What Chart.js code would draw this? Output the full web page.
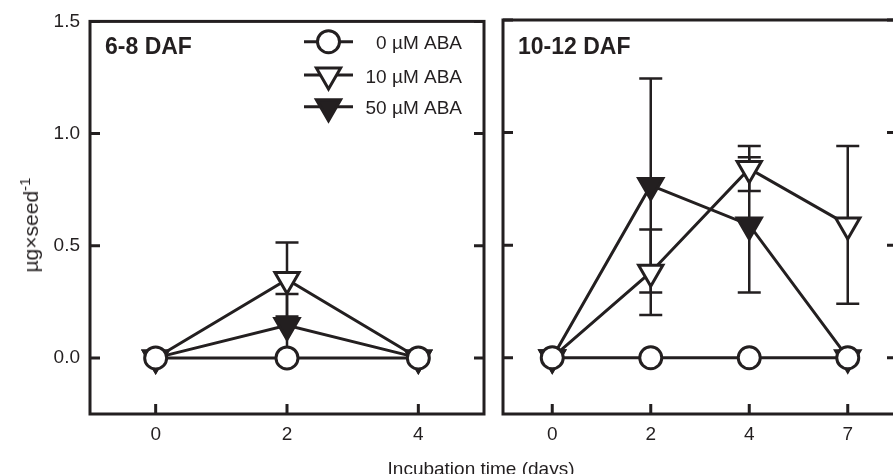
<!DOCTYPE html>
<html>
<head>
<meta charset="utf-8">
<script src="https://cdn.jsdelivr.net/npm/chart.js@4.4.1/dist/chart.umd.min.js"></script>
<style>
  html, body { margin: 0; padding: 0; background: #fff; overflow: hidden; }
  #wrap { position: relative; width: 893px; height: 474px; overflow: hidden;
          font-family: "Liberation Sans", Arial, Helvetica, sans-serif; color: #231f20; }
  canvas { position: absolute; top: 0; }
  #left { left: 0; }
  #right { left: 490px; }
  #ytitle { position: absolute; left: 29px; top: 225px; white-space: nowrap; line-height: 1;
            font-size: 21px; transform: translate(-50%, -50%) rotate(-90deg); }
  #ytitle sup { font-size: 15px; }
  #xtitle { position: absolute; left: 481px; top: 459px; transform: translateX(-50%);
            font-size: 19px; line-height: 19px; white-space: nowrap; }
</style>
</head>
<body>
<div id="wrap">
  <canvas id="left" width="490" height="474"></canvas>
  <canvas id="right" width="410" height="474"></canvas>
  <div id="ytitle">µg×seed<sup>-1</sup></div>
  <div id="xtitle">Incubation time (days)</div>
</div>
<script>
const seriesNames = ["0 µM ABA", "10 µM ABA", "50 µM ABA"];
const yTicks = [0, 0.5, 1.0, 1.5];

// 6-8 DAF panel
const earlyDays = [0, 2, 4];
const early0 = [0, 0, 0];
const early10 = [0, 0.35, 0];
const early50 = [0, 0.145, 0];
const early10Err = [0, 0.165, 0];
const early50Err = [0, 0.14, 0];

// 10-12 DAF panel
const lateDays = ["0", "2", "4", "7"];
const late0 = [0, 0, 0, 0];
const late10 = [0, 0.38, 0.84, 0.59];
const late50 = [0, 0.765, 0.59, 0];
const late10Err = [0, 0.19, 0.10, 0.35];
const late50Err = [0, 0.475, 0.30, 0];

const ink = "#231f20";
const fontFamily = '"Liberation Sans", Arial, Helvetica, sans-serif';
Chart.defaults.font.family = fontFamily;
Chart.defaults.font.size = 19;
Chart.defaults.color = ink;

const marks = [
  { style: "circle", radius: 11, fill: "#fff", rotation: 0 },
  { style: "triangle", radius: 14, fill: "#fff", rotation: 180 },
  { style: "triangle", radius: 14, fill: ink, rotation: 180 },
];

function makeSets(values, errs, xs) {
  return values.map((vals, k) => ({
    label: seriesNames[k],
    data: xs ? vals.map((v, i) => ({ x: xs[i], y: v })) : vals,
    errors: errs[k],
    borderColor: ink,
    borderWidth: 3,
    tension: 0,
    fill: false,
    pointStyle: marks[k].style,
    pointRadius: marks[k].radius,
    pointRotation: marks[k].rotation,
    pointBackgroundColor: marks[k].fill,
    pointBorderColor: ink,
    pointBorderWidth: 3,
  }));
}

function drawMarker(ctx, m, x, y) {
  ctx.beginPath();
  if (m.style === "circle") {
    ctx.arc(x, y, m.radius, 0, Math.PI * 2);
  } else {
    for (let k = 0; k < 3; k++) {
      const a = Math.PI + (k * 2 * Math.PI) / 3;
      const px = x + Math.sin(a) * m.radius;
      const py = y - Math.cos(a) * m.radius;
      if (k === 0) ctx.moveTo(px, py);
      else ctx.lineTo(px, py);
    }
    ctx.closePath();
  }
  ctx.fillStyle = m.fill;
  ctx.fill();
  ctx.lineWidth = 3;
  ctx.strokeStyle = ink;
  ctx.stroke();
}

// error bars under the markers, frame + inward ticks + panel title on top
function panelPlugin(title) {
  return {
    id: "panel",
    beforeDatasetsDraw(chart) {
      const ctx = chart.ctx;
      const y = chart.scales.y;
      ctx.save();
      ctx.strokeStyle = ink;
      ctx.lineWidth = 2.5;
      chart.data.datasets.forEach((ds, k) => {
        const meta = chart.getDatasetMeta(k);
        ds.errors.forEach((e, i) => {
          if (!e) return;
          const v = typeof ds.data[i] === "object" ? ds.data[i].y : ds.data[i];
          const px = meta.data[i].x;
          const top = y.getPixelForValue(v + e);
          const bot = y.getPixelForValue(v - e);
          ctx.beginPath();
          ctx.moveTo(px, top); ctx.lineTo(px, bot);
          ctx.moveTo(px - 11.5, top); ctx.lineTo(px + 11.5, top);
          ctx.moveTo(px - 11.5, bot); ctx.lineTo(px + 11.5, bot);
          ctx.stroke();
        });
      });
      ctx.restore();
    },
    afterDatasetsDraw(chart) {
      const ctx = chart.ctx;
      const a = chart.chartArea;
      const x = chart.scales.x;
      const y = chart.scales.y;
      ctx.save();
      ctx.strokeStyle = ink;
      ctx.lineWidth = 3;
      ctx.strokeRect(a.left, a.top, a.right - a.left, a.bottom - a.top);
      ctx.beginPath();
      yTicks.forEach((t) => {
        const py = y.getPixelForValue(t);
        ctx.moveTo(a.left, py); ctx.lineTo(a.left + 10, py);
        ctx.moveTo(a.right, py); ctx.lineTo(a.right - 10, py);
      });
      x.ticks.forEach((t, i) => {
        const px = x.getPixelForTick(i);
        ctx.moveTo(px, a.bottom); ctx.lineTo(px, a.bottom - 10);
      });
      ctx.stroke();
      ctx.fillStyle = ink;
      ctx.font = "bold 23px " + fontFamily;
      ctx.textAlign = "left";
      ctx.textBaseline = "alphabetic";
      ctx.fillText(title, a.left + 15, 53.5);
      ctx.restore();
    },
  };
}

const legendPlugin = {
  id: "seriesLegend",
  afterDraw(chart) {
    const ctx = chart.ctx;
    const rows = [41.7, 75, 106.7];
    ctx.save();
    seriesNames.forEach((name, k) => {
      const ry = rows[k];
      ctx.beginPath();
      ctx.moveTo(304, ry); ctx.lineTo(353, ry);
      ctx.lineWidth = 3;
      ctx.strokeStyle = ink;
      ctx.stroke();
      drawMarker(ctx, marks[k], 328.5, ry);
      ctx.fillStyle = ink;
      ctx.font = "19px " + fontFamily;
      ctx.textAlign = "right";
      ctx.textBaseline = "alphabetic";
      ctx.fillText(name, 462, ry + 7.5);
    });
    ctx.restore();
  },
};

const yScale = (showLabels, width) => ({
  min: -0.25,
  max: 1.5,
  grid: { display: false, drawTicks: false },
  border: { display: false },
  ticks: { display: showLabels, padding: 10, callback: (v) => Number(v).toFixed(1) },
  afterBuildTicks: (s) => { s.ticks = yTicks.map((v) => ({ value: v })); },
  afterFit: (s) => { s.width = width; },
});

const baseOptions = {
  responsive: false,
  animation: false,
  events: [],
  plugins: { legend: { display: false }, tooltip: { enabled: false } },
};

new Chart(document.getElementById("left"), {
  type: "line",
  data: { datasets: makeSets([early0, early10, early50], [[0, 0, 0], early10Err, early50Err], earlyDays) },
  plugins: [panelPlugin("6-8 DAF"), legendPlugin],
  options: {
    ...baseOptions,
    layout: { autoPadding: false, padding: { top: 20, right: 6, left: 0, bottom: 0 } },
    scales: {
      x: {
        type: "linear",
        min: -1,
        max: 5,
        grid: { display: false, drawTicks: false },
        border: { display: false },
        ticks: { padding: 9, maxRotation: 0 },
        afterBuildTicks: (s) => { s.ticks = earlyDays.map((v) => ({ value: v })); },
        afterFit: (s) => { s.height = 60; },
      },
      y: yScale(true, 90),
    },
  },
});

new Chart(document.getElementById("right"), {
  type: "line",
  data: {
    labels: lateDays,
    datasets: makeSets([late0, late10, late50], [[0, 0, 0, 0], late10Err, late50Err]),
  },
  plugins: [panelPlugin("10-12 DAF")],
  options: {
    ...baseOptions,
    layout: { autoPadding: false, padding: { top: 20, right: 3, left: 0, bottom: 0 } },
    scales: {
      x: {
        type: "category",
        offset: true,
        grid: { display: false, drawTicks: false, offset: true },
        border: { display: false },
        ticks: { padding: 9, maxRotation: 0 },
        afterFit: (s) => { s.height = 60; },
      },
      y: yScale(false, 13),
    },
  },
});
</script>
</body>
</html>
